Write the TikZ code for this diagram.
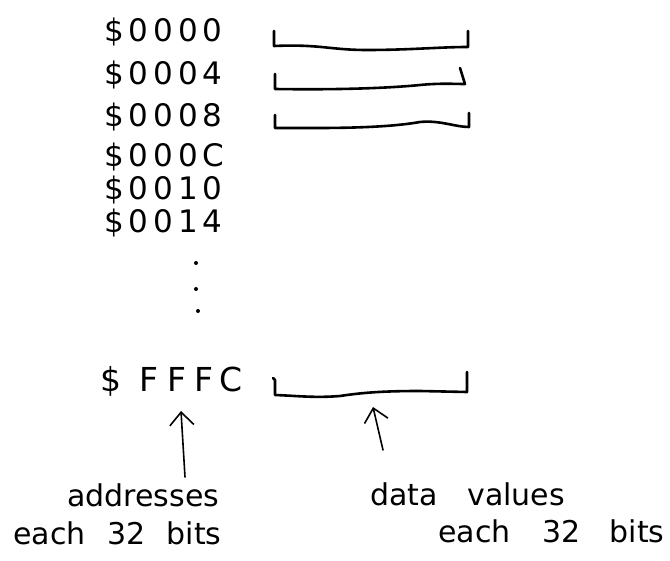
\documentclass[tikz,border=0pt]{standalone}
\usepackage{fontspec}
\setmainfont{DejaVu Sans}
\newfontfamily\addrfont[LetterSpace=16]{DejaVu Sans}
\usetikzlibrary{arrows.meta}
\begin{document}
\begin{tikzpicture}[x=1pt,y=-1pt,
  addr/.style={anchor=base west,inner sep=0pt,font=\addrfont\fontsize{31}{33}\selectfont},
  lbl/.style={anchor=base west,inner sep=0pt,font=\fontsize{30}{32}\selectfont},
  slot/.style={line width=2.6pt,line join=round,line cap=round},
  up/.style={line width=1.6pt,line cap=round,-{Straight Barb[length=13pt,width=24pt,line width=1.6pt]}}]
\useasboundingbox (0,0) rectangle (670,561);
\node[addr] (a0) at (104,42) {\$0000};
\node[addr] (a1) at (104,85) {\$0004};
\node[addr] (a2) at (104,127) {\$0008};
\node[addr] (a3) at (104,167) {\$000C};
\node[addr] (a4) at (104,200) {\$0010};
\node[addr] (a5) at (104,233) {\$0014};
\fill (196,263) circle (2pt);
\fill (196,289) circle (2pt);
\fill (198,311) circle (2pt);
\node[addr,font=\fontsize{33}{35}\selectfont] (af) at (100,392) {\$\hspace{18pt}F\hspace{9pt}F\hspace{8pt}F\hspace{6pt}C};
\draw[slot] (274,31) -- (274,46) .. controls (320,44) and (330,50) .. (367,50) .. controls (410,50) and (440,47) .. (468,47) -- (468,31);
\draw[slot] (275,74) -- (275,89) .. controls (340,90) and (390,88) .. (420,85) .. controls (440,83) and (455,84) .. (465,84) -- (460,68);
\draw[slot] (275,115) -- (275,128) .. controls (320,128) and (380,129) .. (420,122) .. controls (440,120) and (455,127) .. (469,127) -- (469,113);
\draw[slot] (273,378) -- (275,380) -- (275,395) .. controls (300,396) and (315,398) .. (340,396) .. controls (360,393) and (380,391) .. (420,391) -- (467,392) -- (467,372);
\node[lbl] (addrtxt) at (67,507) {addresses};
\node[lbl] (addrbits) at (13,544) {each\hspace{12pt} 32\hspace{12pt} bits};
\node[lbl] (datatxt) at (370,505) {data\hspace{20pt} values};
\node[lbl] (databits) at (438,542) {each\hspace{22pt} 32\hspace{20pt} bits};
\coordinate (addrtail) at (185,477);
\coordinate (addrtip) at (181,411);
\coordinate (datatail) at (383,450);
\coordinate (datatip) at (373,407);
\draw[up] (addrtail) -- (addrtip);
\draw[up] (datatail) -- (datatip);
\end{tikzpicture}
\end{document}
